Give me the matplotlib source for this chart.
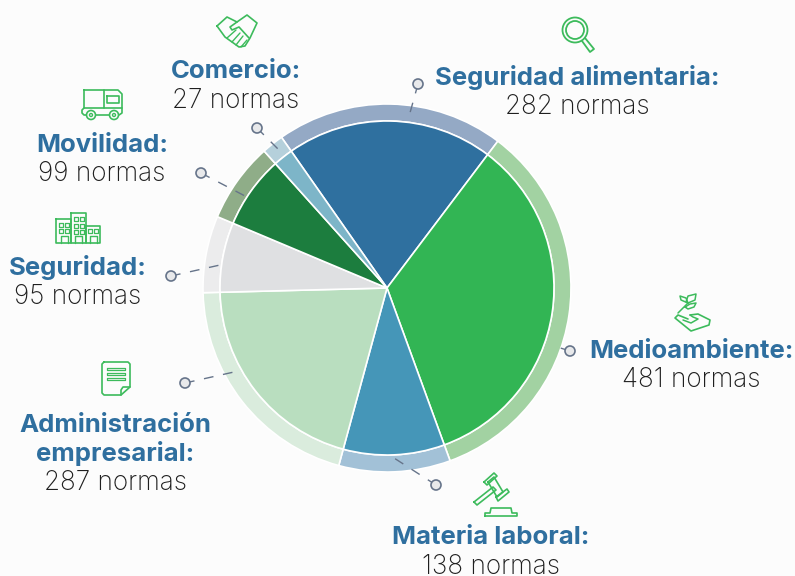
import numpy as np
import matplotlib
matplotlib.use("Agg")
import matplotlib.pyplot as plt
from matplotlib.patches import Circle

W, H = 795, 576

names = ["Seguridad alimentaria:", "Medioambiente:", "Materia laboral:",
         "Administración\nempresarial:", "Seguridad:", "Movilidad:", "Comercio:"]
counts = [282, 481, 138, 287, 95, 99, 27]
inner_colors = ["#2F709F", "#32B554", "#4596B8", "#B9DEBF", "#DFE0E2", "#1C7D3E", "#7DB5C8"]
outer_colors = ["#94A9C5", "#A2D2A2", "#A2C1D7", "#DAECDD", "#ECECED", "#8FAD88", "#B5D0DB"]

# label centres in pixels from the top left, bold line then count line
label_x = [577, 691, 491, 115, 78, 102, 236]
label_y = [78, 351, 538, 425, 268, 145, 72]
# leader: circle end, pie end
leaders = [((418, 84), (408, 120)), ((570, 351), (554, 346)), ((436, 485), (394, 458)),
           ((185, 383), (234, 372)), ((171, 276), (220, 265)), ((201, 173), (245, 196)),
           ((257, 128), (281, 152))]

BG = "#FCFCFC"
BLUE = "#2F6F9F"
DARK = "#1F1F1F"
GREEN = "#3DBB5C"
LINE_H = 29


def fy(y):
    return H - y


fig = plt.figure(figsize=(W / 100, H / 100), dpi=100, facecolor=BG)
ax = fig.add_axes([0, 0, 1, 1])
ax.set_facecolor(BG)

wedge_style = {"edgecolor": "white", "linewidth": 1.2}
ax.pie(counts, colors=outer_colors, startangle=125, counterclock=False, center=(387, fy(288)),
       radius=184, frame=True, wedgeprops={**wedge_style, "width": 17})
ax.pie(counts, colors=inner_colors, startangle=125, counterclock=False, center=(387, fy(288)),
       radius=167, frame=True, wedgeprops=wedge_style)
ax.set_xlim(0, W)
ax.set_ylim(0, H)
ax.set_aspect("equal")
ax.axis("off")

for (c, p) in leaders:
    ax.plot([c[0], p[0]], [fy(c[1]), fy(p[1])], color="#66748A", lw=1, dashes=(7, 7), zorder=5)
    ax.add_patch(Circle((c[0], fy(c[1])), 5, fc="#E8E9EB", ec="#66748A", lw=1.2, zorder=6))

for name, n, x, y in zip(names, counts, label_x, label_y):
    lines = name.split("\n")
    for i, line_txt in enumerate(lines):
        ax.text(x, fy(y + i * LINE_H), line_txt, family="Inter", weight="bold", fontsize=18.5,
                color=BLUE, ha="center", va="center")
    ax.text(x, fy(y + len(lines) * LINE_H), f"{n} normas", family="Inter", fontsize=18.8,
            color=DARK, ha="center", va="center", weight="light")


# icons, outline only
def line(pts, lw=1.2):
    xs, ys = zip(*pts)
    ax.plot(xs, [fy(v) for v in ys], color=GREEN, lw=lw, solid_capstyle="round",
            solid_joinstyle="round", zorder=4)


def box(x0, y0, x1, y1, lw=1.2):
    line([(x0, y0), (x1, y0), (x1, y1), (x0, y1), (x0, y0)], lw)


def ring(x, y, r, lw=1.2):
    ax.add_patch(Circle((x, fy(y)), r, fc="none", ec=GREEN, lw=lw, zorder=4))


# magnifier
ring(575, 30, 12.5, 1.3)
ring(575, 30, 9, 1.3)
line([(582, 41), (590, 52), (594, 49), (585, 38)], 1.3)

# handshake
line([(217, 26), (227, 17), (237, 22), (247, 15), (257, 23), (250, 38), (245, 46), (239, 47), (225, 37), (217, 26)])
line([(237, 22), (230, 27), (232, 30), (239, 27), (249, 38)])
for a, b in [((227, 38), (236, 30)), ((232, 42), (240, 33)), ((236, 45), (243, 36)), ((241, 47), (247, 40))]:
    line([a, b], 1)

# truck
box(84, 90, 104, 108)
line([(104, 90), (118, 90), (122, 94), (122, 113), (119, 115), (84, 115), (82, 113), (82, 110), (84, 108)])
box(107, 96, 119, 103)
line([(104, 108), (122, 108)])
for wx in (91, 114):
    ax.add_patch(Circle((wx, fy(115)), 4.5, fc=BG, ec=GREEN, lw=1.2, zorder=5))
    ax.add_patch(Circle((wx, fy(115)), 1.5, fc="none", ec=GREEN, lw=1, zorder=6))

# buildings
box(56, 219, 71, 243)
box(71, 213, 86, 243)
box(86, 226, 100, 243)
for wx, wy in [(60, 224), (66, 224), (60, 230), (66, 230), (75, 218), (81, 218), (75, 225), (81, 225),
               (75, 231), (81, 231), (89, 230), (95, 230)]:
    box(wx - 1.5, wy - 1.5, wx + 2.5, wy + 2.5, 0.9)
for dx in (61, 75, 90):
    line([(dx, 243), (dx, 236), (dx + 7, 236), (dx + 7, 243)], 1)

# document
line([(104, 362), (128, 362), (130, 364), (130, 387), (121, 395), (104, 395), (102, 393), (102, 364), (104, 362)])
line([(130, 387), (123, 387), (121, 390), (121, 395)])
for ly in (369, 374, 379):
    box(107, ly - 1, 125, ly + 1, 0.9)

# gavel
line([(474, 502), (477, 505), (496, 490), (493, 487), (474, 502)])
line([(488, 482), (494, 477), (503, 492), (497, 497), (488, 482)])
line([(484, 482), (494, 473), (497, 476), (487, 485), (484, 482)])
line([(496, 497), (507, 489), (509, 492), (498, 501), (496, 497)])
line([(485, 516), (517, 516), (517, 513), (512, 513), (511, 508), (491, 508), (490, 513), (485, 513), (485, 516)])

# plant in a hand
line([(678, 313), (688, 303)], 1.1)
line([(688, 303), (681, 300), (680, 296), (686, 298), (688, 303)], 1.1)
line([(686, 302), (688, 296), (696, 294), (695, 300), (688, 303)], 1.1)
line([(685, 307), (690, 304), (696, 303), (694, 307), (688, 309), (685, 307)], 1.1)
line([(690, 315), (698, 314), (710, 320), (709, 325), (691, 331), (675, 318), (678, 315), (688, 319)], 1.2)
line([(690, 315), (693, 317), (698, 319), (691, 323), (683, 320)], 1.1)

fig.savefig("out.png", dpi=100, facecolor=BG)
